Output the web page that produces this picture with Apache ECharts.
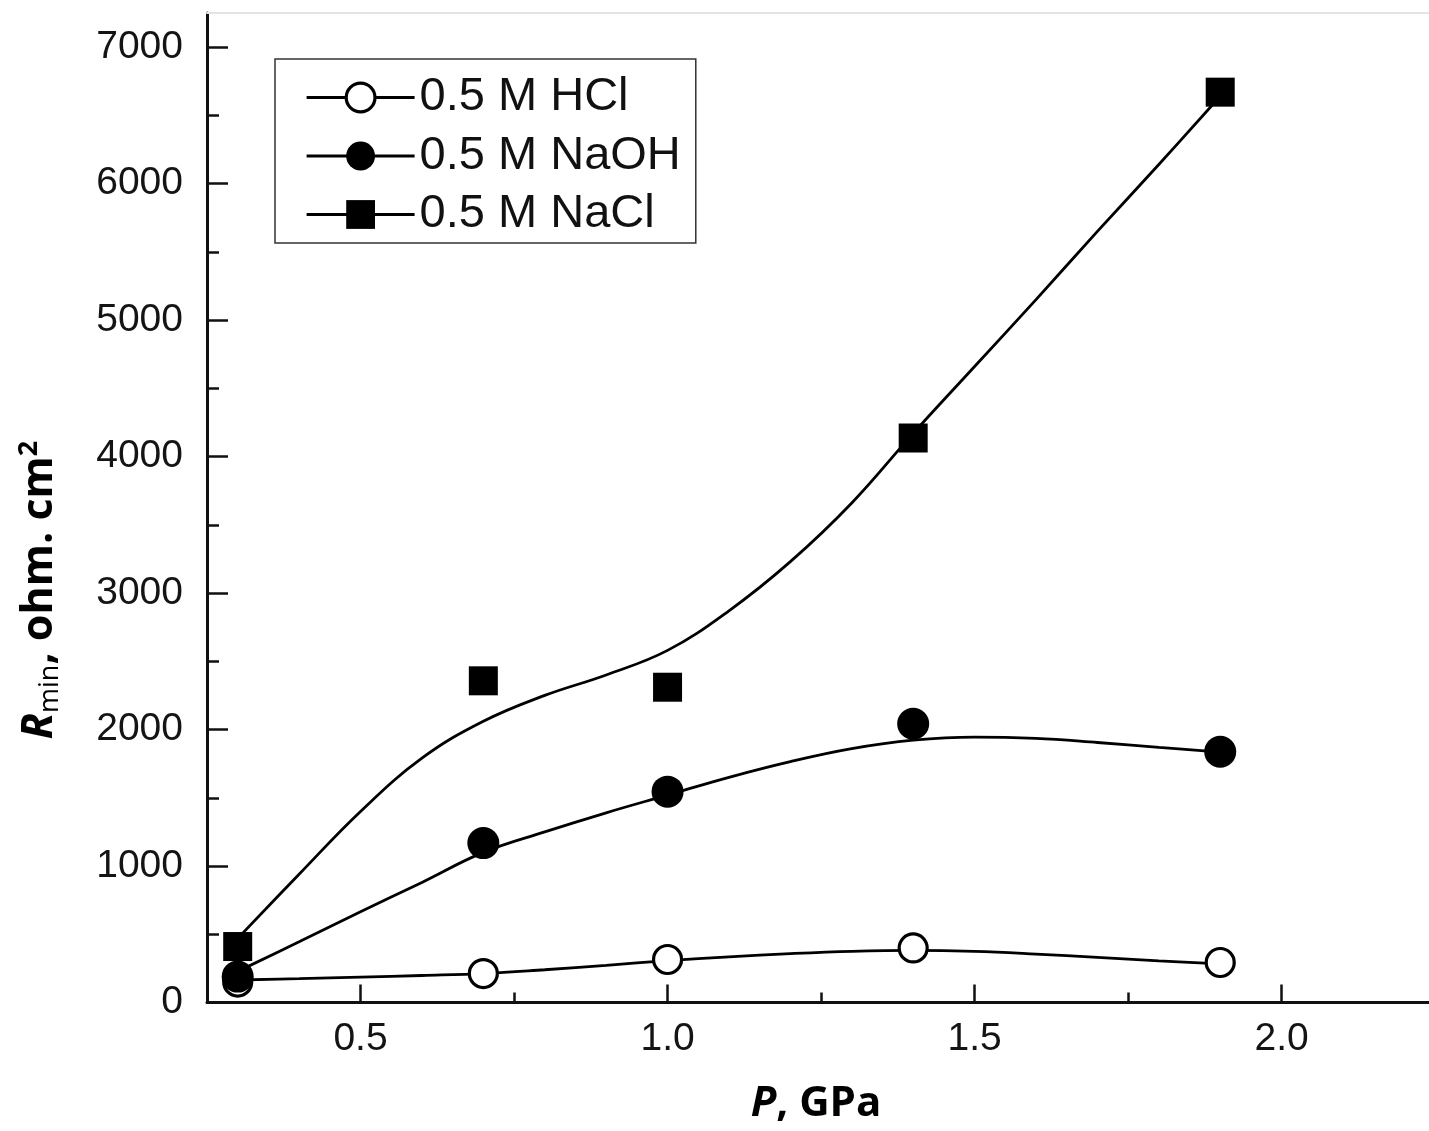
<!DOCTYPE html>
<html>
<head>
<meta charset="utf-8">
<script src="https://cdn.jsdelivr.net/npm/echarts@6/dist/echarts.min.js"></script>
<style>
html,body{margin:0;padding:0;background:#fff;}
#chart{width:1429px;height:1131px;}
</style>
</head>
<body>
<div id="chart"></div>
<script>
// ---- data ----
const seriesNames = ['0.5 M HCl', '0.5 M NaOH', '0.5 M NaCl'];
const pointX = [0.3, 0.7, 1.0, 1.4, 1.9];
const hclPoints = [150, 212, 315, 400, 293];
const naohPoints = [190, 1168, 1545, 2042, 1837];
const naclPoints = [410, 2357, 2310, 4136, 6670];

// fitted curves
const curveX = [0.3, 0.4, 0.5, 0.6, 0.7, 0.8, 0.9, 1.0, 1.1, 1.2, 1.3, 1.4, 1.5, 1.6, 1.7, 1.8, 1.9];
const hclCurve = [165, 175, 186, 198, 212, 240, 272, 307, 335, 358, 375, 382, 375, 355, 330, 305, 283];
const naohCurve = [228, 445, 665, 880, 1100, 1250, 1390, 1520, 1650, 1765, 1860, 1922, 1945, 1935, 1905, 1870, 1835];
const naclCurve = [470, 940, 1400, 1790, 2060, 2250, 2400, 2580, 2870, 3230, 3660, 4170, 4660, 5150, 5650, 6140, 6640];

const xTickLabels = [0.5, 1.0, 1.5, 2.0];
const xMinorTicks = [0.75, 1.25, 1.75];
const yTickLabels = [0, 1000, 2000, 3000, 4000, 5000, 6000, 7000];
const yMinorTicks = [500, 1500, 2500, 3500, 4500, 5500, 6500];

// ---- chart ----
const zip = (xs, ys) => xs.map((x, i) => [x, ys[i]]);
const chart = echarts.init(document.getElementById('chart'), null, {renderer: 'canvas'});

const labelFont = {fontFamily: 'Liberation Sans, Arial, sans-serif', fontSize: 39, color: '#141414'};
const axisLine = {show: true, lineStyle: {color: '#111', width: 3}};

const markerStyles = [
  {color: '#fff', borderColor: '#000', borderWidth: 3.2, opacity: 1},
  {color: '#000', opacity: 1},
  {color: '#000', opacity: 1}
];

const curveSeries = (name, data, symbol, style) => ({
  name, type: 'line', data: zip(curveX, data), smooth: 0.4,
  showSymbol: false, symbol, symbolSize: 28,
  lineStyle: {color: '#000', width: 2.8},
  itemStyle: style,
  emphasis: {disabled: true}, silent: true, z: 3
});
const pointSeries = (name, data, symbol, size, style) => ({
  name, type: 'scatter', data: zip(pointX, data), symbol, symbolSize: size,
  itemStyle: style, emphasis: {disabled: true}, silent: true, z: 5
});

chart.setOption({
  animation: false,
  backgroundColor: '#fff',
  grid: {left: 207, right: 0, top: 13, bottom: 128.5, containLabel: false},
  xAxis: [
    {
      type: 'value', min: 0.25, max: 2.24, position: 'bottom',
      axisLine: axisLine,
      axisTick: {show: true, inside: true, length: 18, lineStyle: {color: '#111', width: 2.5}, customValues: xTickLabels},
      axisLabel: Object.assign({margin: 17, customValues: xTickLabels, formatter: v => v.toFixed(1)}, labelFont),
      splitLine: {show: false}
    },
    {
      type: 'value', min: 0.25, max: 2.24, position: 'bottom',
      axisLine: {show: false},
      axisTick: {show: true, inside: true, length: 10, lineStyle: {color: '#111', width: 2.5}, customValues: xMinorTicks},
      axisLabel: {show: false}, splitLine: {show: false}
    },
    {
      type: 'value', min: 0.25, max: 2.24, position: 'top',
      axisLine: {show: true, lineStyle: {color: '#e4e4e4', width: 2}},
      axisTick: {show: false}, axisLabel: {show: false}, splitLine: {show: false}
    }
  ],
  yAxis: [
    {
      type: 'value', min: 0, max: 7250, position: 'left',
      axisLine: axisLine,
      axisTick: {show: true, inside: true, length: 21, lineStyle: {color: '#111', width: 2.5}, customValues: yTickLabels},
      axisLabel: Object.assign({margin: 24, customValues: yTickLabels, formatter: v => String(v)}, labelFont),
      splitLine: {show: false}
    },
    {
      type: 'value', min: 0, max: 7250, position: 'left',
      axisLine: {show: false},
      axisTick: {show: true, inside: true, length: 12, lineStyle: {color: '#111', width: 2.5}, customValues: yMinorTicks},
      axisLabel: {show: false}, splitLine: {show: false}
    }
  ],
  legend: {
    orient: 'vertical', left: 275, top: 59,
    data: [
      {name: seriesNames[0], itemStyle: {borderWidth: 3.2, borderColor: '#000'}, lineStyle: {width: 3.2}},
      {name: seriesNames[1], lineStyle: {width: 3.2}},
      {name: seriesNames[2], lineStyle: {width: 3.2}}
    ],
    itemWidth: 108, itemHeight: 36, itemGap: 11.5,
    padding: [15, 15, 5, 30], itemTextGap: 12,
    lineStyle: {width: 3.2, color: '#000'},
    borderColor: '#333', borderWidth: 1.5,
    textStyle: {fontFamily: 'Liberation Sans, Arial, sans-serif', fontSize: 47, color: '#111'},
    selectedMode: false
  },
  graphic: [
    {
      type: 'text', x: 40, y: 590, rotation: Math.PI / 2,
      style: {
        text: '{i|R}{s|min}{b|, ohm. cm}{p|2}',
        align: 'center', verticalAlign: 'middle',
        rich: {
          i: {fontFamily: 'Open Sans', fontWeight: 'bold', fontStyle: 'italic', fontSize: 43, lineHeight: 48, fill: '#000'},
          s: {fontFamily: 'Open Sans', fontWeight: 'normal', fontSize: 27, lineHeight: 38, verticalAlign: 'bottom', fill: '#000'},
          b: {fontFamily: 'Open Sans', fontWeight: 'bold', fontSize: 43, lineHeight: 48, fill: '#000'},
          p: {fontFamily: 'Open Sans', fontWeight: 'bold', fontSize: 27, lineHeight: 48, verticalAlign: 'top', fill: '#000'}
        }
      }
    },
    {
      type: 'text', x: 816, y: 1104,
      style: {
        text: '{i|P}{b|, GPa}',
        align: 'center', verticalAlign: 'middle',
        rich: {
          i: {fontFamily: 'Open Sans', fontWeight: 'bold', fontStyle: 'italic', fontSize: 42, fill: '#000'},
          b: {fontFamily: 'Open Sans', fontWeight: 'bold', fontSize: 42, fill: '#000'}
        }
      }
    }
  ],
  series: [
    curveSeries(seriesNames[0], hclCurve, 'circle', markerStyles[0]),
    curveSeries(seriesNames[1], naohCurve, 'circle', markerStyles[1]),
    curveSeries(seriesNames[2], naclCurve, 'rect', markerStyles[2]),
    pointSeries(seriesNames[0], hclPoints, 'circle', 28, markerStyles[0]),
    pointSeries(seriesNames[1], naohPoints, 'circle', 32, markerStyles[1]),
    pointSeries(seriesNames[2], naclPoints, 'rect', 29, markerStyles[2])
  ]
});
</script>
</body>
</html>
